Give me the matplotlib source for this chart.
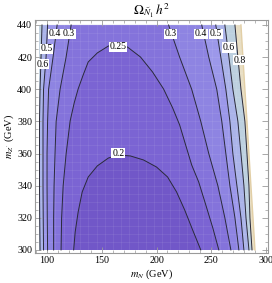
import numpy as np
import matplotlib.pyplot as plt
from matplotlib.ticker import MultipleLocator

plt.rcParams["font.family"] = ["Liberation Serif", "DejaVu Serif"]
plt.rcParams["mathtext.fontset"] = "stix"

y_rows = [300, 320, 340, 360, 380, 400, 420, 440]

# region where the relic density was computed (m_N in GeV at each row)
edge_left = [92.7, 92.7, 92.7, 92.7, 92.7, 92.7, 92.7, 92.7]
edge_right = [289.9, 288.1, 286.2, 284.4, 282.6, 280.7, 278.9, 277.1]

# open contours, m_N (GeV) of the left and right branch at each row
c08_right = [287.2, 285.3, 284.4, 282.6, 280.7, 277.1, 274.3, 271.6]
c06_left = [93.6, 93.3, 93.1, 93.1, 93.1, 93.6, 94.5, 95.4]
c06_right = [284.4, 281.7, 279.8, 277.1, 274.3, 269.7, 266.1, 262.4]
c05_left = [96.8, 96.5, 96.3, 96.3, 96.3, 96.8, 99.1, 100.5]
c05_right = [279.8, 277.1, 273.4, 269.7, 267.0, 263.3, 258.7, 254.1]
c04_left = [100.5, 100.2, 100.0, 100.0, 100.5, 101.4, 105.5, 109.2]
c04_right = [275.2, 271.6, 267.0, 263.3, 259.6, 255.0, 247.7, 241.3]
c03_left = [106.0, 106.0, 106.4, 107.3, 108.3, 111.9, 117.4, 122.0]
c03_right = [267.9, 262.4, 256.0, 247.7, 240.4, 232.1, 221.1, 211.0]

# closed contours (m_N, m_Z') from the bottom left over the top to the bottom right
c025_x = [112.8, 113.3, 114.7, 117.4, 121.1, 124.8, 128.4, 133.0, 137.6, 145.9, 156.0,
          165.1, 173.4, 185.3, 196.3, 206.4, 214.7, 221.1, 226.6, 232.1, 238.5, 245.0,
          251.4, 256.9]
c025_y = [300.0, 319.9, 339.8, 359.7, 380.3, 391.5, 400.2, 408.9, 417.0, 422.6, 426.9,
          428.2, 426.3, 420.1, 410.8, 400.2, 388.4, 377.8, 365.3, 352.9, 342.3, 328.0,
          313.7, 300.0]
c02_x = [124.3, 125.7, 128.4, 132.1, 137.6, 145.9, 156.0, 165.1, 176.1, 188.1, 200.0,
         210.1, 218.3, 225.7, 233.0, 240.4]
c02_y = [300.0, 311.2, 323.6, 336.1, 345.4, 352.3, 357.2, 359.1, 358.5, 356.0, 351.6,
         345.4, 336.1, 324.9, 312.4, 300.0]

# band colours, from above 0.8 down to below 0.2
band_colors = ["#e8dec4", "#bdd0df", "#abb4e9", "#9c98ea", "#8e84e2", "#8473db",
               "#7b64d3", "#7157c8"]

# contour labels
label_text = ["0.4", "0.3", "0.5", "0.6", "0.25", "0.3", "0.4", "0.5", "0.6", "0.8", "0.2"]
label_x = [107.3, 120.2, 99.5, 95.9, 164.7, 212.8, 240.4, 254.1, 266.1, 276.2, 165.1]
label_y = [434.4, 434.4, 425.1, 415.7, 426.3, 434.4, 434.4, 434.4, 426.0, 418.2, 360.3]

LINE_COLOR = "#2a2a3a"
LINE_WIDTH = 0.7
FRAME_COLOR = "#9a9a9a"

fig = plt.figure(figsize=(2.72, 2.83), dpi=100)
ax = fig.add_axes([35 / 272, 1 - 253 / 283, 233 / 272, 233 / 283])


def branch_polygon(xl, xr):
    xs = list(xl) + list(xr)[::-1]
    ys = list(y_rows) + list(y_rows)[::-1]
    return xs, ys


# whole domain (> 0.8)
xs, ys = branch_polygon(edge_left, edge_right)
domain = ax.fill(xs, ys, color=band_colors[0], lw=0)[0]

open_fill = [(edge_left, c08_right), (c06_left, c06_right), (c05_left, c05_right),
             (c04_left, c04_right), (c03_left, c03_right)]
for i, (xl, xr) in enumerate(open_fill):
    xs, ys = branch_polygon(xl, xr)
    ax.fill(xs, ys, color=band_colors[i + 1], lw=0)

ax.fill(c025_x, c025_y, color=band_colors[6], lw=0)
ax.fill(c02_x, c02_y, color=band_colors[7], lw=0)

# faint mesh texture of the rendered surface
for gx in np.arange(92.7, 290, 7.5):
    ax.axvline(gx, color="white", lw=0.6, alpha=0.08, clip_path=domain)
for gy in np.arange(300, 441, 5):
    ax.axhline(gy, color="white", lw=0.6, alpha=0.08, clip_path=domain)

# contour lines
ax.plot(c08_right, y_rows, color=LINE_COLOR, lw=LINE_WIDTH)
for xl, xr in open_fill[1:]:
    ax.plot(xl, y_rows, color=LINE_COLOR, lw=LINE_WIDTH)
    ax.plot(xr, y_rows, color=LINE_COLOR, lw=LINE_WIDTH)
ax.plot(c025_x, c025_y, color=LINE_COLOR, lw=LINE_WIDTH)
ax.plot(c02_x, c02_y, color=LINE_COLOR, lw=LINE_WIDTH)
ax.plot(edge_right, y_rows, color="#e2cfa6", lw=1.0)

for t, x, y in zip(label_text, label_x, label_y):
    ax.text(x, y, t, fontsize=7, ha="center", va="center",
            bbox=dict(boxstyle="square,pad=0.08", fc="white", ec="none"))

ax.set_xlim(89.0, 301.8)
ax.set_ylim(298.1, 443.1)
ax.xaxis.set_major_locator(MultipleLocator(50))
ax.xaxis.set_minor_locator(MultipleLocator(10))
ax.yaxis.set_major_locator(MultipleLocator(20))
ax.yaxis.set_minor_locator(MultipleLocator(5))
ax.tick_params(which="both", direction="in", top=True, right=True,
               color=FRAME_COLOR, labelsize=7.2, pad=2)
ax.tick_params(which="major", length=4, width=0.6)
ax.tick_params(which="minor", length=2, width=0.5)
for s in ax.spines.values():
    s.set_color(FRAME_COLOR)
    s.set_linewidth(0.8)

ax.set_title(r"$\Omega_{\tilde{N}_1}\,h^2$", fontsize=9.5, pad=3)
ax.set_xlabel(r"$m_N$ (GeV)", fontsize=7.5, labelpad=2)
ax.set_ylabel(r"$m_{Z^{\prime}}$ (GeV)", fontsize=7.5, labelpad=1)

fig.savefig("out.png", dpi=100)
